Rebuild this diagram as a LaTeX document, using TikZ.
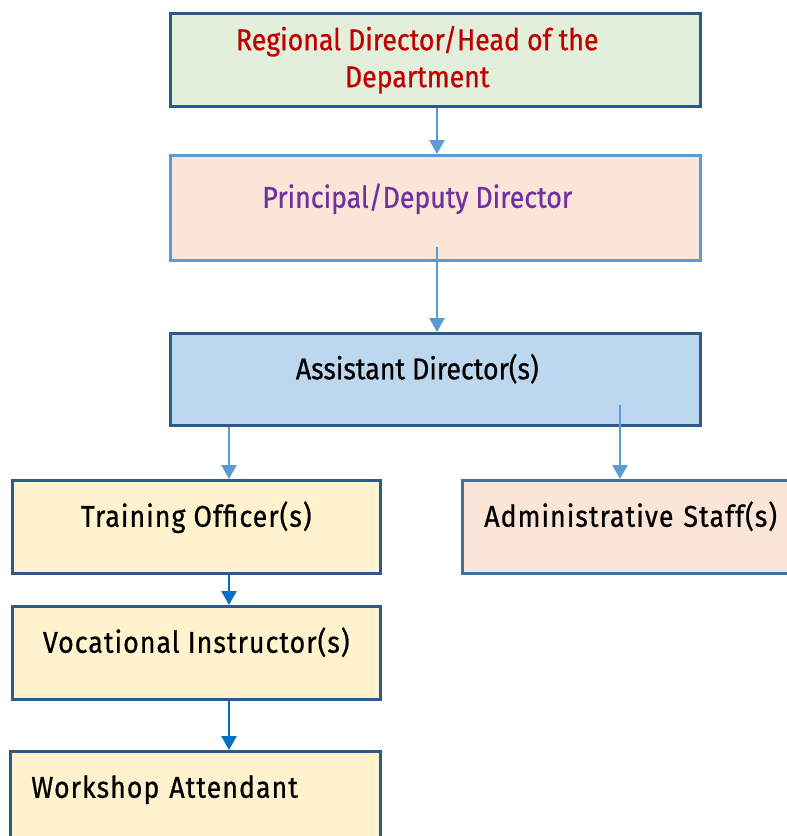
\documentclass[tikz,border=0pt]{standalone}
\usepackage{fontspec}
\setmainfont[FakeStretch=0.89,FakeBold=0.7]{Fira Sans}
\usetikzlibrary{arrows.meta}

\definecolor{darkedge}{HTML}{2E5A88}
\definecolor{midedge}{HTML}{41719C}
\definecolor{lightedge}{HTML}{5B9BD5}
\definecolor{headgreen}{HTML}{E2EFDA}
\definecolor{peach}{HTML}{FBE5D6}
\definecolor{paleblue}{HTML}{BDD7EE}
\definecolor{paleyellow}{HTML}{FFF2CC}
\definecolor{headred}{HTML}{C00000}
\definecolor{purp}{HTML}{7030A0}
\definecolor{darkarr}{HTML}{0070C0}

\newcommand\boxfont{\fontsize{30}{37}\selectfont}
\newcommand\lowfont{\fontsize{30}{37}\selectfont\addfontfeatures{LetterSpace=3.5}}

\begin{document}
\begin{tikzpicture}[x=1pt,y=-1pt,
  orgbox/.style={draw=darkedge, line width=2.5pt, inner sep=0pt, anchor=north west,
    minimum height=93pt, font=\lowfont, text height=22pt, text depth=22pt},
  widebox/.style={orgbox, minimum width=530pt, font=\boxfont,
    execute at end node=\hspace*{36pt}},
  arr/.style={draw=lightedge, line width=2.4pt, -{Triangle[width=15pt,length=14pt]}}]
\useasboundingbox (0,0) rectangle (787,836);
\clip (0,0) rectangle (787,836);

% boxes
\node[widebox, fill=headgreen, text height={}, text depth={}, align=center,
  text=headred] (rd) at (169,12) {Regional Director/Head of the\\Department};
\node[widebox, draw=lightedge, fill=peach, minimum height=105pt,
  text=purp] (pd) at (169,154) {Principal/Deputy Director};
\node[widebox, fill=paleblue, minimum height=92pt] (ad) at (169,332) {Assistant Director(s)};
\node[orgbox, fill=paleyellow, minimum width=368pt] (to) at (11,479) {Training Officer(s)};
\node[orgbox, draw=midedge, fill=peach, text width=340pt, inner xsep=22pt,
  align=left] (as) at (461,479) {Administrative Staff(s)};
\node[orgbox, fill=paleyellow, minimum width=368pt] (vi) at (11,605) {Vocational Instructor(s)};
\node[orgbox, fill=paleyellow, text width=328pt, inner xsep=21pt,
  align=left] (wa) at (9,750) {Workshop Attendant};

% connectors
\coordinate (X1) at (437,0);
\coordinate (X2) at (229,0);
\coordinate (X3) at (620,0);
\coordinate (pd-out) at (437,247);
\coordinate (ad-out) at (620,405);

\draw[arr] (rd.south -| X1) -- (pd.north -| X1);
\draw[arr] (pd-out) -- (ad.north -| X1);
\draw[arr] (ad.south -| X2) -- (to.north -| X2);
\draw[arr] (ad-out) -- (as.north -| X3);
\draw[arr, draw=darkarr] (to.south -| X2) -- (vi.north -| X2);
\draw[arr, draw=darkarr] (vi.south -| X2) -- (wa.north -| X2);
\end{tikzpicture}
\end{document}
